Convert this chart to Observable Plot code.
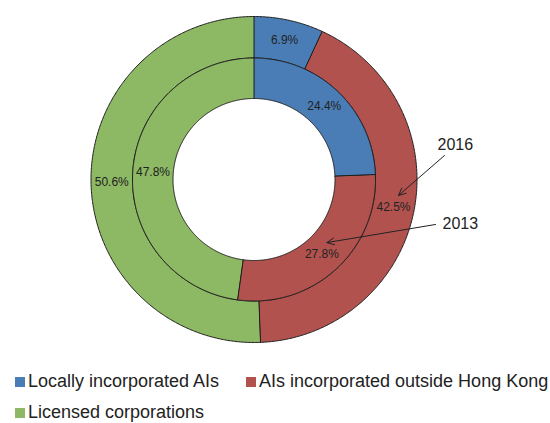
<!DOCTYPE html>
<html><head><meta charset="utf-8">
<script src="https://cdn.jsdelivr.net/npm/d3@7"></script>
<script src="https://cdn.jsdelivr.net/npm/@observablehq/plot@0.6"></script>
<style>
body{margin:0;background:#fff;font-family:"Liberation Sans",Arial,Helvetica,sans-serif;}
#wrap{position:relative;width:550px;height:423px;overflow:hidden;}
#chart{position:absolute;left:0;top:0;}
.leg{position:absolute;font-size:18px;line-height:18px;color:#222;white-space:nowrap;}
.sw{position:absolute;width:10px;height:10px;}
</style></head><body><div id="wrap"><div id="chart"></div></div>
<script>
// ---- data ----
const categories = ["Locally incorporated AIs", "AIs incorporated outside Hong Kong", "Licensed corporations"];
const years = ["2016", "2013"];
const share2016 = [6.9, 42.5, 50.6];
const share2013 = [24.4, 27.8, 47.8];
const colors = ["#4a7db5", "#b2524f", "#8db864"];

// ---- layout ----
const W = 550, H = 365, CX = 253.5, CY = 179;
const rings = {"2016": [121.5, 163], "2013": [81, 121.5]};

const polys = [], labels = [];
const series = {"2016": share2016, "2013": share2013};
for (const yr of years) {
  const [r0, r1] = rings[yr];
  const arcs = d3.pie().sort(null).value(d => d)(series[yr]);
  arcs.forEach((a, i) => {
    const id = yr + "-" + i;
    const n = Math.max(4, Math.ceil((a.endAngle - a.startAngle) / (Math.PI / 360)));
    for (let k = 0; k <= n; k++) {
      const t = a.startAngle + (a.endAngle - a.startAngle) * k / n;
      polys.push({id, cat: categories[i], x: r1 * Math.sin(t), y: r1 * Math.cos(t)});
    }
    for (let k = n; k >= 0; k--) {
      const t = a.startAngle + (a.endAngle - a.startAngle) * k / n;
      polys.push({id, cat: categories[i], x: r0 * Math.sin(t), y: r0 * Math.cos(t)});
    }
    const m = (a.startAngle + a.endAngle) / 2, rm = (r0 + r1) / 2;
    labels.push({year: yr, cat: categories[i], x: rm * Math.sin(m), y: rm * Math.cos(m),
                 text: a.data.toFixed(1) + "%"});
  });
}

// annotations: year label points at the label of the "outside Hong Kong" segment
const annots = years.map((yr, j) => {
  const lab = labels.find(l => l.year === yr && l.cat === categories[1]);
  const pos = yr === "2016" ? {tx: 437 - CX, ty: CY - 144.5, sx: 444 - CX, sy: CY - 155}
                            : {tx: 442 - CX, ty: CY - 223.5, sx: 435 - CX, sy: CY - 224};
  return {year: yr, ...pos, ex: lab.x + 5, ey: lab.y + 12};
});

const chart = Plot.plot({
  width: W, height: H, margin: 0,
  style: {fontFamily: '"Liberation Sans", Arial, Helvetica, sans-serif', background: "transparent"},
  x: {domain: [-CX, W - CX], axis: null},
  y: {domain: [-(H - CY), CY], axis: null},
  color: {domain: categories, range: colors},
  marks: [
    Plot.line(polys, {x: "x", y: "y", z: "id", fill: "cat", stroke: "#1e1e1e", strokeWidth: 1, curve: "linear-closed"}),
    Plot.text(labels, {x: "x", y: "y", text: "text", fontSize: 12, fill: "#222"}),
    Plot.arrow(annots, {x1: "sx", y1: "sy", x2: "ex", y2: "ey", stroke: "#222", strokeWidth: 1, headLength: 12, headAngle: 50}),
    Plot.text(annots, {x: "tx", y: "ty", text: "year", fontSize: 16, textAnchor: "start", fill: "#222"})
  ]
});
document.getElementById("chart").appendChild(chart);

// ---- legend ----
const wrap = document.getElementById("wrap");
const legPos = [{sx: 15, sy: 377, tx: 28, ty: 372}, {sx: 246, sy: 377, tx: 259, ty: 372}, {sx: 15, sy: 408, tx: 28, ty: 403}];
categories.forEach((c, i) => {
  const p = legPos[i];
  const sw = document.createElement("div");
  sw.className = "sw"; sw.style.left = p.sx + "px"; sw.style.top = p.sy + "px"; sw.style.background = colors[i];
  const tx = document.createElement("div");
  tx.className = "leg"; tx.style.left = p.tx + "px"; tx.style.top = p.ty + "px"; tx.textContent = c;
  wrap.appendChild(sw); wrap.appendChild(tx);
});
</script>
</body></html>
